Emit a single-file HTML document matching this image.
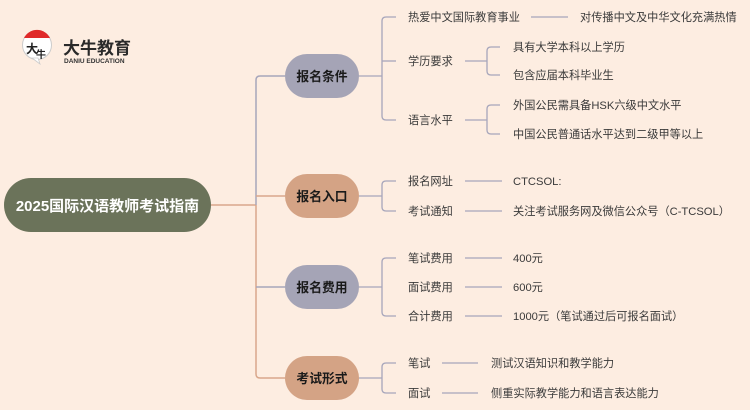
<!DOCTYPE html>
<html><head><meta charset="utf-8"><style>
html,body{margin:0;padding:0;background:#fdede1;}
svg{display:block;}
text{font-family:"Liberation Sans","Noto Sans CJK SC",sans-serif;}
.t{font-size:11.2px;fill:#3a3a3a;}
.n{font-size:12.8px;font-weight:bold;fill:#1a1a1a;}
</style></head><body>
<svg width="750" height="410" viewBox="0 0 750 410" xmlns="http://www.w3.org/2000/svg">
<rect width="750" height="410" fill="#fdede1"/>
<!-- logo -->
<circle cx="37" cy="45" r="14.5" fill="#fff" stroke="#ccc" stroke-width="1"/>
<path d="M24 38 A14.5 14.5 0 0 1 50 38 Z" fill="#e02a2a"/>
<path d="M32 58 L40 64 L38 58 Z" fill="#fff" stroke="#ccc" stroke-width="0.8"/>
<text x="26" y="53" style="font-size:12px;font-weight:bold;fill:#222">大</text>
<text x="36" y="58" style="font-size:10px;font-weight:bold;fill:#222">牛</text>
<text x="63" y="54" style="font-size:17px;font-weight:bold;fill:#2a2a2a">大牛教育</text>
<text x="64" y="63" style="font-size:6.5px;font-weight:bold;fill:#333">DANIU EDUCATION</text>

<!-- trunk -->
<g fill="none" stroke-width="1.5">
<path d="M211 205 H256" stroke="#d9a78c"/>
<path d="M285 76 H260 Q256 76 256 80 V205" stroke="#a7a6bb"/>
<path d="M256 205 V374 Q256 378 260 378 H285" stroke="#d9a78c"/>
<path d="M256 196 H285" stroke="#d9a78c"/>
<path d="M256 287 H285" stroke="#a7a6bb"/>
</g>
<!-- root -->
<rect x="4" y="178" width="207" height="54" rx="27" fill="#6b735a"/>
<text x="107.5" y="211" text-anchor="middle" style="font-size:15px;font-weight:bold;fill:#fff">2025国际汉语教师考试指南</text>
<!-- nodes -->
<rect x="285" y="54" width="74" height="44" rx="22" fill="#a5a4b6"/>
<text x="322" y="81" text-anchor="middle" class="n">报名条件</text>
<rect x="285" y="174" width="74" height="44" rx="22" fill="#d4a385"/>
<text x="322" y="201" text-anchor="middle" class="n">报名入口</text>
<rect x="285" y="265" width="74" height="44" rx="22" fill="#a5a4b6"/>
<text x="322" y="292" text-anchor="middle" class="n">报名费用</text>
<rect x="285" y="356" width="74" height="44" rx="22" fill="#d4a385"/>
<text x="322" y="383" text-anchor="middle" class="n">考试形式</text>

<g fill="none" stroke="#a7a6bb" stroke-width="1.3">
<path d="M359 76 H382"/>
<path d="M396 17 H386 Q382 17 382 21 V116 Q382 120 386 120 H396"/>
<path d="M382 61 H396"/>
<path d="M531 17 H568"/>
<path d="M465 61 H487"/>
<path d="M500 47 H491 Q487 47 487 51 V71 Q487 75 491 75 H500"/>
<path d="M465 120 H487"/>
<path d="M500 105 H491 Q487 105 487 109 V130 Q487 134 491 134 H500"/>
<path d="M359 196 H382"/>
<path d="M396 181 H386 Q382 181 382 185 V207 Q382 211 386 211 H396"/>
<path d="M465 181 H502"/><path d="M465 211 H502"/>
<path d="M359 287 H382"/>
<path d="M396 258 H386 Q382 258 382 262 V312 Q382 316 386 316 H396"/>
<path d="M465 258 H502"/><path d="M465 287 H502"/><path d="M465 316 H502"/>
<path d="M359 378 H382"/>
<path d="M396 363 H386 Q382 363 382 367 V389 Q382 393 386 393 H396"/>
<path d="M442 363 H478"/><path d="M442 393 H478"/>
</g>

<g>
<text x="408" y="21" class="t">热爱中文国际教育事业</text>
<text x="580" y="21" class="t">对传播中文及中华文化充满热情</text>
<text x="408" y="65" class="t">学历要求</text>
<text x="513" y="51" class="t">具有大学本科以上学历</text>
<text x="513" y="79" class="t">包含应届本科毕业生</text>
<text x="408" y="124" class="t">语言水平</text>
<text x="513" y="109" class="t">外国公民需具备HSK六级中文水平</text>
<text x="513" y="138" class="t">中国公民普通话水平达到二级甲等以上</text>
<text x="408" y="185" class="t">报名网址</text>
<text x="513" y="185" class="t">CTCSOL:</text>
<text x="408" y="215" class="t">考试通知</text>
<text x="513" y="215" class="t">关注考试服务网及微信公众号（C-TCSOL）</text>
<text x="408" y="262" class="t">笔试费用</text>
<text x="513" y="262" class="t">400元</text>
<text x="408" y="291" class="t">面试费用</text>
<text x="513" y="291" class="t">600元</text>
<text x="408" y="320" class="t">合计费用</text>
<text x="513" y="320" class="t">1000元（笔试通过后可报名面试）</text>
<text x="408" y="367" class="t">笔试</text>
<text x="491" y="367" class="t">测试汉语知识和教学能力</text>
<text x="408" y="397" class="t">面试</text>
<text x="491" y="397" class="t">侧重实际教学能力和语言表达能力</text>
</g>
</svg>
</body></html>
